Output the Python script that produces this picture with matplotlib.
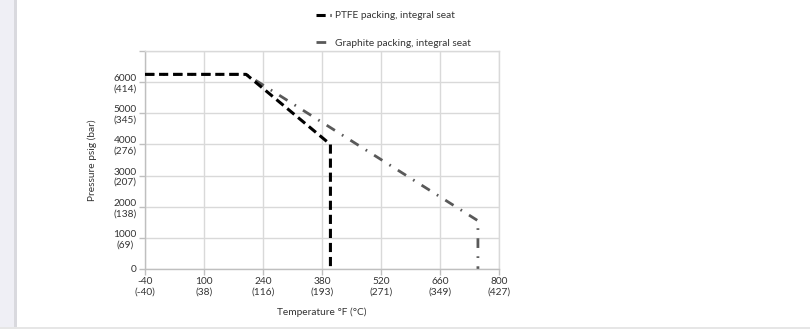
import matplotlib
matplotlib.use("Agg")
import matplotlib.pyplot as plt
from matplotlib.patches import Rectangle

# Data
ptfe_temp_f = [-40, 200, 400, 400]
ptfe_psig = [6250, 6250, 4000, 0]
graphite_temp_f = [-40, 200, 750, 750]
graphite_psig = [6250, 6250, 1550, 0]

x_ticks = [-40, 100, 240, 380, 520, 660, 800]
x_tick_labels = ["-40\n(-40)", "100\n(38)", "240\n(116)", "380\n(193)",
                 "520\n(271)", "660\n(349)", "800\n(427)"]
y_ticks = [0, 1000, 2000, 3000, 4000, 5000, 6000]
y_tick_labels = ["0", "1000\n(69)", "2000\n(138)", "3000\n(207)",
                 "4000\n(276)", "5000\n(345)", "6000\n(414)"]

plt.rcParams['font.family'] = ['Lato', 'DejaVu Sans']

W, H = 810, 329
fig = plt.figure(figsize=(W / 100, H / 100), dpi=100)
fig.patch.set_facecolor("white")

# screenshot frame decorations
fig.patches.append(Rectangle((0, 0), 14 / W, 1, transform=fig.transFigure,
                             facecolor="#efeff5", edgecolor="none", zorder=0))
fig.patches.append(Rectangle((14 / W, 0), 3 / W, 1, transform=fig.transFigure,
                             facecolor="#d9d9de", edgecolor="none", zorder=0))
fig.patches.append(Rectangle((0, 0), 1, 2 / H, transform=fig.transFigure,
                             facecolor="#e6e6e6", edgecolor="none", zorder=0))

left, right, bottom, top = 145 / W, 499 / W, 1 - 269 / H, 1 - 51 / H
ax = fig.add_axes([left, bottom, right - left, top - bottom])

ax.plot(ptfe_temp_f, ptfe_psig, color="black", lw=2.2,
        linestyle=(0, (3, 1.6)), label="PTFE packing, integral seat", zorder=3)
ax.plot(graphite_temp_f, graphite_psig, color="#595959", lw=2.0,
        linestyle=(0, (3.5, 3, 0.6, 3)), label="Graphite packing, integral seat", zorder=2)

ax.set_xlim(-40, 800)
ax.set_ylim(0, 7000)
ax.set_xticks(x_ticks)
ax.set_xticklabels(x_tick_labels, fontsize=7.3, color="#333333", multialignment="center")
ax.set_yticks(y_ticks + [7000])
ax.set_yticklabels(y_tick_labels + [""], fontsize=7.3, color="#333333", multialignment="center")
ax.tick_params(axis="both", length=4, color="#bfbfbf", width=1, pad=2)
ax.grid(True, color="#d9d9d9", lw=1)
ax.set_axisbelow(True)
for s in ax.spines.values():
    s.set_color("#d9d9d9")
    s.set_linewidth(1)
ax.spines["left"].set_color("#bfbfbf")
ax.spines["bottom"].set_color("#bfbfbf")

ax.set_xlabel("Temperature °F (°C)", fontsize=7.3, color="#333333", labelpad=8)
ax.set_ylabel("Pressure psig (bar)", fontsize=7.3, color="#333333", labelpad=12)

leg = fig.legend(loc="upper left", bbox_to_anchor=(307 / W, 1 - 2 / H),
                 fontsize=7.3, frameon=False, handlelength=1.5,
                 handletextpad=0.4, labelspacing=1.8)
for t in leg.get_texts():
    t.set_color("#333333")

fig.savefig("out.png", dpi=100, facecolor="white")
